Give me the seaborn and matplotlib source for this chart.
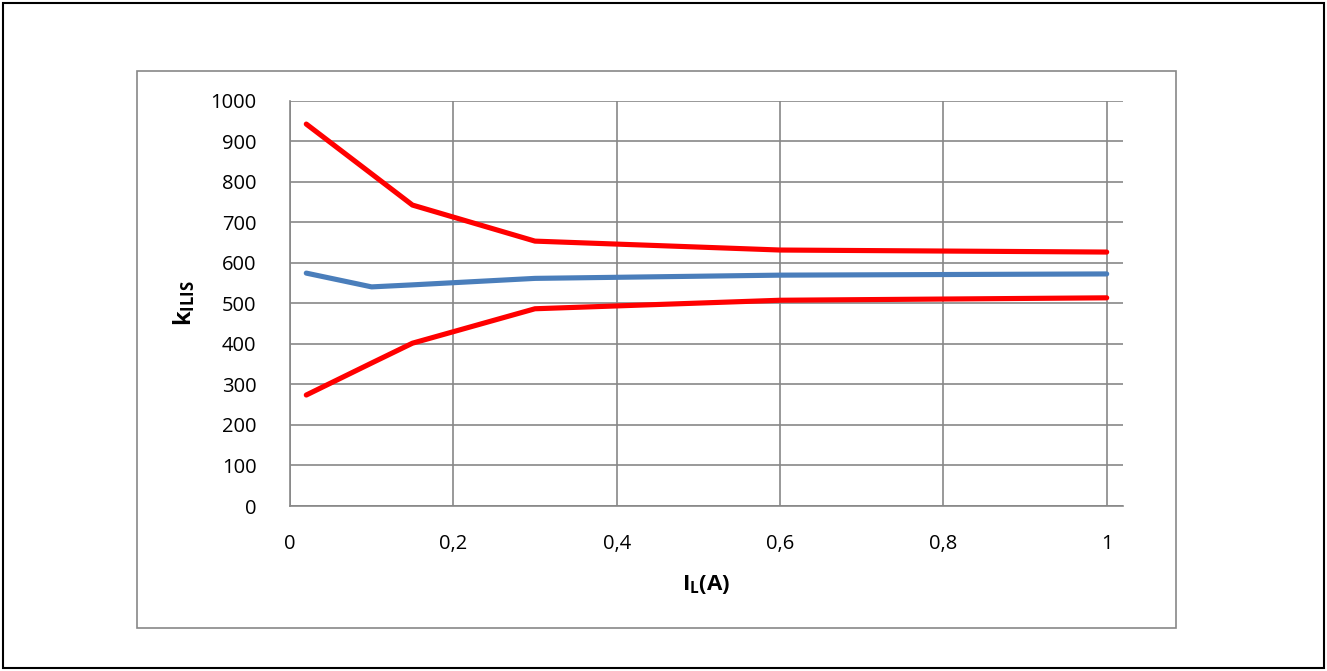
import pandas as pd
import matplotlib.pyplot as plt
import seaborn as sns
from matplotlib.patches import Rectangle

# valores
corrente = [0.02, 0.1, 0.15, 0.3, 0.6, 1.0]
k_max = [943, 820, 743, 654, 632, 627]
k_nom = [575, 541, 546, 562, 570, 573]
k_min = [274, 353, 402, 487, 508, 514]

x_ticks = [0, 0.2, 0.4, 0.6, 0.8, 1]
x_labels = ["0", "0,2", "0,4", "0,6", "0,8", "1"]
y_ticks = list(range(0, 1001, 100))

df = pd.DataFrame({
    "IL": corrente * 3,
    "k": k_max + k_nom + k_min,
    "serie": ["max"] * 6 + ["nom"] * 6 + ["min"] * 6,
})

sns.set_theme(style="white")
plt.rcParams["font.family"] = ["Open Sans", "DejaVu Sans"]
plt.rcParams["mathtext.fontset"] = "custom"
plt.rcParams["mathtext.rm"] = "Open Sans"
plt.rcParams["mathtext.bf"] = "Open Sans:bold"
plt.rcParams["text.color"] = "black"
plt.rcParams["axes.labelcolor"] = "black"

fig = plt.figure(figsize=(13.27, 6.71), dpi=100)
ax = fig.add_axes([0.2185, 0.2459, 0.6278, 0.6036])

sns.lineplot(data=df, x="IL", y="k", hue="serie", units="serie", estimator=None,
             palette={"max": "#ff0000", "nom": "#4a7ebb", "min": "#ff0000"},
             linewidth=3.7, legend=False, ax=ax, sort=False,
             solid_capstyle="round")

ax.set_xlim(0, 1.02)
ax.set_ylim(0, 1000)
ax.set_xticks(x_ticks)
ax.set_xticklabels(x_labels)
ax.set_yticks(y_ticks)
ax.grid(True, color="#878787", linewidth=1.2)
ax.set_axisbelow(True)
for s in ["top", "right"]:
    ax.spines[s].set_visible(False)
for s in ["left", "bottom"]:
    ax.spines[s].set_color("#878787")
    ax.spines[s].set_linewidth(1.2)
ax.tick_params(axis="both", length=0, labelsize=14.5, colors="black")
ax.tick_params(axis="y", pad=24)
ax.tick_params(axis="x", pad=20)

ax.set_xlabel(r"$\mathbf{I_L}$$\mathbf{(A)}$", fontsize=16, labelpad=14)
ax.set_ylabel(r"$\mathbf{k_{ILIS}}$", fontsize=17, labelpad=10)

# moldura externa e moldura do grafico
fig.patches.append(Rectangle((3 / 1327, 3 / 671), 1321 / 1327, 665 / 671,
                             transform=fig.transFigure, fill=False,
                             edgecolor="black", linewidth=1.5))
fig.patches.append(Rectangle((137 / 1327, 1 - 628 / 671), 1039 / 1327, 557 / 671,
                             transform=fig.transFigure, fill=False,
                             edgecolor="#878787", linewidth=1.2))

fig.savefig("out.png", dpi=100)
